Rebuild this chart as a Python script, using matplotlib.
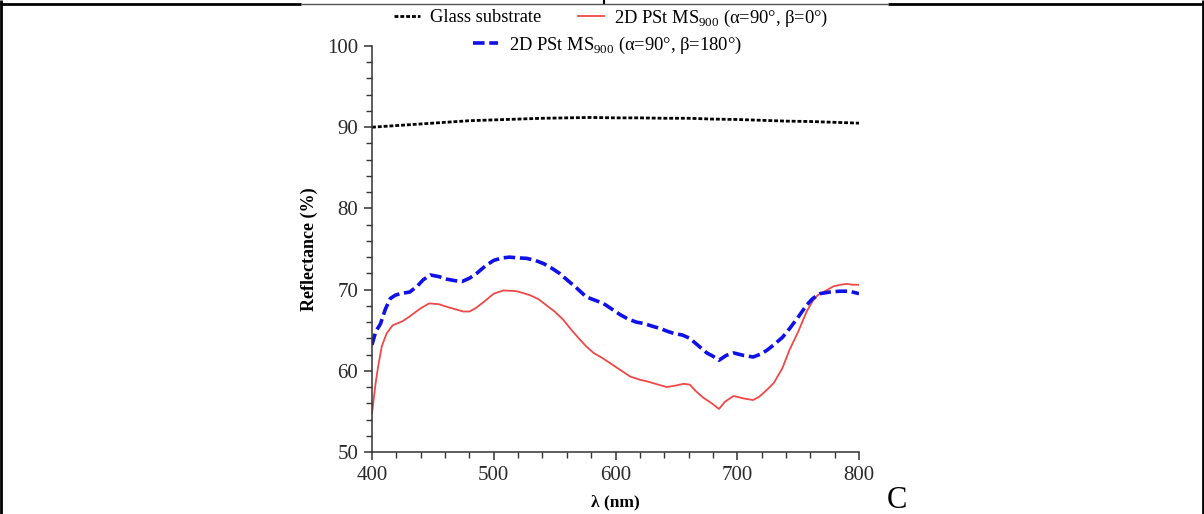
import matplotlib
matplotlib.use("Agg")
import matplotlib.pyplot as plt
from matplotlib.lines import Line2D
from matplotlib.ticker import MultipleLocator

plt.rcParams['font.family'] = ['Liberation Serif', 'DejaVu Serif']
plt.rcParams['mathtext.fontset'] = 'custom'
plt.rcParams['mathtext.rm'] = 'Liberation Serif'

# ---- data ----
glass_x = [400, 420, 440, 460, 480, 500, 520, 540, 560, 580, 600, 620, 640, 660, 680, 700, 720, 740, 760, 780, 800]
glass_y = [90.0, 90.2, 90.4, 90.6, 90.8, 90.9, 91.0, 91.1, 91.15, 91.2, 91.15, 91.15, 91.1, 91.1, 91.0, 90.95, 90.85, 90.75, 90.7, 90.6, 90.5]

red_x = [400, 403, 405, 408, 412, 417, 425, 431, 440, 447, 455, 461, 468, 475, 480, 485, 492, 500, 508, 519,
         530, 537, 543, 550, 557, 564, 571, 576, 582, 590, 598, 605, 612, 620, 626, 635, 642, 650, 656, 661,
         666, 672, 679, 685, 690, 697, 705, 713, 718, 724, 730, 737, 743, 750, 757, 762, 766, 772, 779, 785,
         790, 795, 800]
red_y = [54.8, 58.5, 60.5, 63.0, 64.6, 65.6, 66.1, 66.7, 67.7, 68.3, 68.2, 67.9, 67.6, 67.3, 67.3, 67.7, 68.5, 69.5, 69.9, 69.8,
         69.3, 68.8, 68.1, 67.3, 66.3, 65.0, 63.8, 63.0, 62.2, 61.5, 60.7, 60.0, 59.3, 58.9, 58.7, 58.3, 58.0, 58.2, 58.4, 58.3,
         57.5, 56.7, 56.0, 55.3, 56.2, 56.9, 56.6, 56.4, 56.8, 57.6, 58.5, 60.3, 62.6, 64.8, 67.3, 68.6, 69.3, 69.8, 70.4, 70.6,
         70.7, 70.6, 70.6]

blue_x = [400, 403, 407, 411, 415, 419, 423, 431, 437, 442, 448, 455, 461, 468, 474, 480, 486, 493, 500, 507,
          513, 520, 527, 534, 541, 548, 554, 561, 568, 576, 583, 590, 597, 604, 610, 617, 624, 630, 637, 642,
          648, 655, 661, 668, 675, 680, 685, 691, 697, 705, 713, 720, 725, 730, 737, 743, 750, 757, 762, 768,
          776, 784, 792, 800]
blue_y = [63.2, 64.8, 65.8, 67.6, 68.9, 69.3, 69.5, 69.7, 70.4, 71.2, 71.8, 71.6, 71.3, 71.1, 71.0, 71.4, 72.0, 72.9, 73.6, 73.9,
          74.0, 73.9, 73.85, 73.6, 73.2, 72.6, 72.0, 71.1, 70.2, 69.1, 68.7, 68.3, 67.6, 66.9, 66.4, 66.0, 65.8, 65.5, 65.2, 64.9,
          64.6, 64.4, 64.0, 63.1, 62.2, 61.8, 61.3, 61.9, 62.2, 61.9, 61.7, 62.1, 62.6, 63.2, 64.1, 65.2, 66.6, 68.1, 68.9, 69.5,
          69.7, 69.8, 69.8, 69.5]

labels = ['Glass substrate',
          r'2D PSt MS$_\mathrm{900}$ (α=90°, β=0°)',
          r'2D PSt MS$_\mathrm{900}$ (α=90°, β=180°)']
x_ticks = [400, 500, 600, 700, 800]
y_ticks = [50, 60, 70, 80, 90, 100]

# ---- figure ----
fig = plt.figure(figsize=(12.04, 5.14), dpi=100)
ax = fig.add_axes([372/1204, 1-452/514, (859-372)/1204, (452-46)/514])

red_c = '#f04848'
blue_c = '#1010e8'
l_glass, = ax.plot(glass_x, glass_y, color='black', lw=2.0, dashes=(1.4, 0.7))
l_red, = ax.plot(red_x, red_y, color=red_c, lw=1.3)
l_blue, = ax.plot(blue_x, blue_y, color=blue_c, lw=2.6, dashes=(3.2, 1.3))

ax.set_xlim(400, 800)
ax.set_ylim(50, 100)
ax.set_xticks(x_ticks)
ax.set_yticks(y_ticks)
ax.xaxis.set_minor_locator(MultipleLocator(20))
ax.yaxis.set_minor_locator(MultipleLocator(2))
for s in ['top', 'right']:
    ax.spines[s].set_visible(False)
for s in ['left', 'bottom']:
    ax.spines[s].set_color('#333333')
    ax.spines[s].set_linewidth(1.1)
ax.tick_params(which='major', direction='out', length=6, width=1.1, color='#333333',
               labelsize=15, labelcolor='#2a2a2a', pad=4)
ax.tick_params(which='minor', direction='out', length=4, width=1.0, color='#333333')

ax.set_xlabel('λ (nm)', fontsize=12.5, fontweight='bold')
ax.set_ylabel('Reflectance (%)', fontsize=13, fontweight='bold')
ax.xaxis.set_label_coords(0.5, -0.104)
ax.yaxis.set_label_coords(-0.111, 0.5)

leg1 = fig.legend([l_glass, l_red], labels[:2], loc='center', bbox_to_anchor=(611/1204, 1-18/514),
                  ncol=2, frameon=False, fontsize=13.3, handlelength=1.4, handletextpad=0.55,
                  columnspacing=2.0, borderpad=0)
leg2 = fig.legend([l_blue], labels[2:], loc='center', bbox_to_anchor=(607/1204, 1-45/514),
                  ncol=1, frameon=False, fontsize=13.3, handlelength=1.4, handletextpad=0.55, borderpad=0)

# table borders around the figure
def fline(x0, x1, y0, y1, lw, c='black'):
    fig.add_artist(Line2D([x0/1204, x1/1204], [1-y0/514, 1-y1/514], lw=lw, color=c,
                          transform=fig.transFigure, solid_capstyle='butt'))

fline(1, 1, 0, 514, 2.0)
fline(1202.5, 1202.5, 0, 514, 2.0)
fline(0, 301, 4, 4, 2.0)
fline(888, 1204, 4, 4, 2.0)
fline(301, 888, 3.5, 3.5, 1.0, '#555555')
fline(604, 604, 0, 4, 1.5)

fig.text(897/1204, 1-500/514, 'C', fontsize=22, ha='center', va='center')

fig.savefig('out.png', dpi=100)
